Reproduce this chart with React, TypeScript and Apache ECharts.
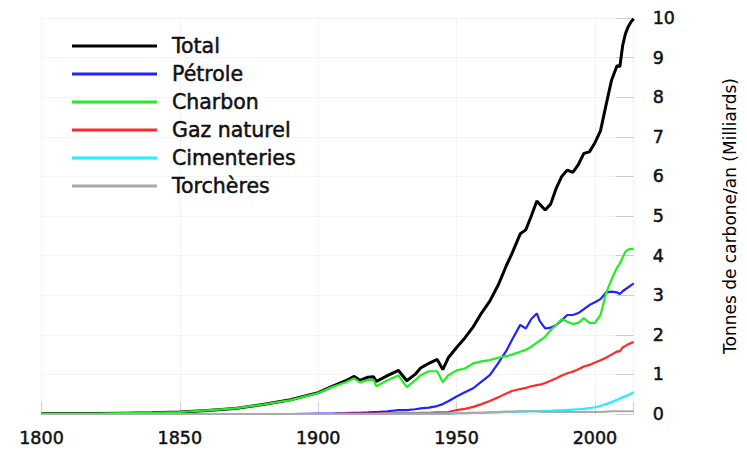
import React, { useEffect, useRef } from "react";
import * as echarts from "echarts";

const years = [1800,1810,1820,1830,1840,1850,1860,1870,1880,1890,1900,
  1905,1910,1913,1915,1918,1920,1921,1925,1929,1932,1935,1937,1940,1943,1945,1947,
  1950,1953,1956,1959,1962,1965,1968,
  1970,1973,1975,1977,1979,1980,1982,1984,1986,1988,
  1990,1992,1994,1996,1998,2000,2002,2004,2006,2008,
  2009,2010,2011,2012,2013,2014];

const total = [0.01,0.01,0.01,0.02,0.03,0.05,0.09,0.14,0.24,0.36,0.54,
  0.70,0.84,0.95,0.85,0.93,0.94,0.82,0.97,1.10,0.84,1.00,1.16,1.28,1.38,1.12,1.42,
  1.68,1.92,2.20,2.55,2.85,3.25,3.75,
  4.05,4.55,4.65,5.00,5.38,5.30,5.15,5.30,5.70,6.00,
  6.16,6.10,6.30,6.58,6.62,6.85,7.15,7.80,8.43,8.80,
  8.77,9.30,9.60,9.78,9.90,9.98];

const petrole = [0,0,0,0,0,0,0,0,0,0,0.01,
  0.01,0.02,0.03,0.03,0.04,0.05,0.05,0.07,0.10,0.10,0.12,0.14,0.16,0.20,0.25,0.32,
  0.44,0.55,0.65,0.82,0.98,1.28,1.60,
  1.87,2.25,2.16,2.40,2.54,2.35,2.16,2.18,2.25,2.37,
  2.50,2.50,2.55,2.65,2.75,2.82,2.90,3.07,3.09,3.07,
  3.03,3.10,3.15,3.20,3.25,3.30];

const charbon = [0.01,0.01,0.01,0.02,0.03,0.05,0.09,0.14,0.24,0.35,0.53,
  0.68,0.80,0.90,0.80,0.86,0.86,0.70,0.85,0.97,0.68,0.85,0.98,1.08,1.08,0.80,0.98,
  1.10,1.15,1.28,1.33,1.36,1.42,1.46,
  1.50,1.57,1.62,1.70,1.80,1.85,1.95,2.12,2.25,2.40,
  2.33,2.27,2.30,2.42,2.30,2.30,2.50,3.05,3.40,3.70,
  3.80,3.95,4.10,4.15,4.17,4.17];

const gaz = [0,0,0,0,0,0,0,0,0,0,0,
  0,0.01,0.01,0.01,0.01,0.01,0.01,0.015,0.02,0.02,0.02,0.03,0.03,0.04,0.04,0.05,
  0.10,0.13,0.18,0.25,0.33,0.42,0.52,
  0.58,0.63,0.66,0.70,0.73,0.74,0.78,0.84,0.90,0.97,
  1.03,1.07,1.13,1.20,1.24,1.30,1.36,1.42,1.50,1.58,
  1.58,1.68,1.72,1.76,1.79,1.82];

const ciment = [0,0,0,0,0,0,0,0,0,0,0,
  0,0,0,0,0,0,0,0.005,0.01,0.01,0.01,0.01,0.01,0.01,0.01,0.01,
  0.02,0.02,0.03,0.03,0.04,0.04,0.05,
  0.05,0.06,0.06,0.07,0.07,0.07,0.08,0.08,0.09,0.09,
  0.10,0.11,0.12,0.13,0.15,0.17,0.20,0.25,0.30,0.36,
  0.39,0.42,0.45,0.48,0.51,0.55];

const torcheres = [0,0,0,0,0,0,0,0,0,0,0,
  0,0,0,0,0,0,0,0,0,0,0,0,0,0,0,0,
  0.02,0.02,0.03,0.03,0.04,0.05,0.06,
  0.06,0.07,0.07,0.07,0.07,0.06,0.05,0.05,0.05,0.05,
  0.05,0.05,0.05,0.05,0.05,0.05,0.05,0.06,0.07,0.07,
  0.07,0.07,0.07,0.07,0.07,0.07];

const seriesNames = ["Total", "Pétrole", "Charbon", "Gaz naturel", "Cimenteries", "Torchères"];
const seriesValues = [total, petrole, charbon, gaz, ciment, torcheres];
const seriesColors = ["#000000", "#2222ff", "#22ee22", "#ff2a2a", "#22eeff", "#aaaaaa"];
const seriesWidths = [3, 2.2, 2.2, 2.2, 2.2, 2.2];

const xTicks = [1800, 1850, 1900, 1950, 2000];
const yAxisName = "Tonnes de carbone/an (Milliards)";

const FONT = "DejaVu Sans";
const heavy = { textBorderColor: "#111", textBorderWidth: 0.5 };

export default function App() {
  const ref = useRef<HTMLDivElement>(null);
  useEffect(() => {
    if (!ref.current) return;
    const chart = echarts.init(ref.current, undefined, { renderer: "svg" });
    chart.setOption({
      animation: false,
      backgroundColor: "#ffffff",
      grid: { left: 41.5, right: 113.3, top: 18, bottom: 42, containLabel: false },
      legend: {
        orient: "vertical",
        left: 72,
        top: 32,
        padding: 0,
        icon: "rect",
        itemWidth: 85,
        itemHeight: 3,
        itemGap: 0,
        data: seriesNames,
        textStyle: {
          fontFamily: FONT,
          fontSize: 20.5,
          color: "#111",
          lineHeight: 28,
          padding: [0, 0, 0, 10],
          ...heavy,
        },
      },
      xAxis: {
        type: "value",
        min: 1800,
        max: 2014,
        interval: 50,
        axisLine: { show: false },
        axisTick: { show: true, inside: true, length: 12, lineStyle: { color: "#d0d0d0" } },
        splitLine: { show: true, lineStyle: { color: "#f3f3f3", width: 1 } },
        axisLabel: {
          margin: 15,
          fontFamily: FONT,
          fontSize: 17.5,
          color: "#111",
          ...heavy,
          formatter: (v: number) => (xTicks.indexOf(v) >= 0 ? String(v) : ""),
        },
      },
      yAxis: {
        type: "value",
        position: "right",
        min: 0,
        max: 10,
        interval: 1,
        name: yAxisName,
        nameLocation: "middle",
        nameRotate: 90,
        nameGap: 88,
        nameTextStyle: { fontFamily: FONT, fontSize: 17, color: "#000" },
        axisLine: { show: false },
        axisTick: { show: true, inside: true, length: 18, lineStyle: { color: "#cccccc" } },
        splitLine: { show: true, lineStyle: { color: "#f3f3f3", width: 1 } },
        axisLabel: { margin: 19, fontFamily: FONT, fontSize: 17.5, color: "#111", ...heavy },
      },
      series: seriesNames.map((name, k) => ({
        name,
        type: "line",
        symbol: "none",
        smooth: false,
        data: years.map((y, i) => [y, seriesValues[k][i]]),
        lineStyle: { color: seriesColors[k], width: seriesWidths[k] },
        itemStyle: { color: seriesColors[k] },
      })),
    });
    return () => chart.dispose();
  }, []);
  return (
    <div
      ref={ref}
      style={{ position: "fixed", left: 0, top: 0, width: 747, height: 456, background: "#fff" }}
    />
  );
}
